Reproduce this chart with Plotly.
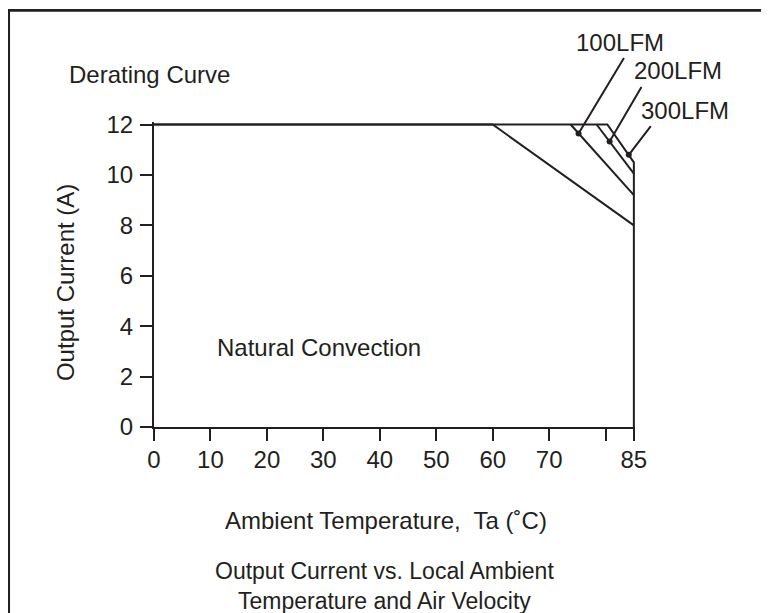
import plotly.graph_objects as go

# ---- data ----
nat_x = [0, 60, 85]
nat_y = [12, 12, 8]
lfm100_x = [73.8, 85]
lfm100_y = [12, 9.2]
lfm200_x = [78.4, 85]
lfm200_y = [12, 10.05]
lfm300_x = [0, 80.3, 85, 85]
lfm300_y = [12, 12, 10.5, 0]

label_names = ["100LFM", "200LFM", "300LFM"]
dot_x = [75.2, 80.7, 84.1]
dot_y = [11.64, 11.33, 10.8]
leader_x = [83.4, 86.5, 88.2]
leader_y = [14.7, 13.55, 12.0]

x_tickvals = [0, 10, 20, 30, 40, 50, 60, 70, 80, 85]
x_ticktext = ["0", "10", "20", "30", "40", "50", "60", "70", "", "85"]
y_tickvals = [0, 2, 4, 6, 8, 10, 12]

INK = "#231f20"
FONT = "Liberation Sans, Arial, sans-serif"
FS = 24

fig = go.Figure()
for xs, ys in [(nat_x, nat_y), (lfm100_x, lfm100_y), (lfm200_x, lfm200_y), (lfm300_x, lfm300_y)]:
    fig.add_trace(go.Scatter(x=xs, y=ys, mode="lines",
                             line=dict(color=INK, width=2), showlegend=False,
                             hoverinfo="skip"))
fig.add_trace(go.Scatter(x=dot_x, y=dot_y, mode="markers",
                         marker=dict(color=INK, size=6), showlegend=False,
                         cliponaxis=False, hoverinfo="skip"))

# label positions (paper coordinates)
label_pos = [(0.968, 1.261), (1.089, 1.168), (1.103, 1.039)]


def txt(text, x, y, xanchor="center", angle=0, size=FS):
    return dict(x=x, y=y, xref="paper", yref="paper", text=text, showarrow=False,
                xanchor=xanchor, yanchor="middle", textangle=angle,
                font=dict(family=FONT, size=size, color=INK))


annotations = []
for name, dx, dy, lx, ly, (px, py) in zip(label_names, dot_x, dot_y, leader_x, leader_y, label_pos):
    annotations.append(dict(x=dx, y=dy, ax=lx, ay=ly, xref="x", yref="y",
                            axref="x", ayref="y", showarrow=True, arrowhead=0,
                            arrowwidth=2, arrowcolor=INK, text=""))
    annotations.append(txt(name, px, py))

annotations += [
    txt("Derating Curve", -0.1815, 1.157, xanchor="left"),
    txt("Natural Convection", 0.343, 0.261),
    txt("Output Current (A)", -0.185, 0.472, angle=-90),
    txt("Ambient Temperature,  Ta (˚C)", 0.482, -0.305),
    txt("Output Current vs. Local Ambient<br>Temperature and Air Velocity",
        0.480, -0.521, size=23),
]

# outer frame (left and top edges)
shapes = [dict(type="path", xref="paper", yref="paper",
               path="M -0.302,-0.7 L -0.302,1.366 L 1.35,1.366",
               line=dict(color=INK, width=2.6))]

fig.update_layout(
    width=769, height=613,
    margin=dict(l=146, r=142, t=114, b=194),
    paper_bgcolor="white", plot_bgcolor="white",
    font=dict(family=FONT, size=FS, color=INK),
    annotations=annotations, shapes=shapes,
    xaxis=dict(range=[0, 85.2], tickvals=x_tickvals, ticktext=x_ticktext,
               ticks="outside", ticklen=12, tickwidth=2, tickcolor=INK,
               showline=True, linewidth=2, linecolor=INK, showgrid=False,
               zeroline=False, ticklabelstandoff=-2,
               tickfont=dict(family=FONT, size=FS, color=INK)),
    yaxis=dict(range=[0, 12.1], tickvals=y_tickvals,
               ticks="outside", ticklen=12, tickwidth=2, tickcolor=INK,
               showline=True, linewidth=2, linecolor=INK, showgrid=False,
               zeroline=False, ticklabelstandoff=2,
               tickfont=dict(family=FONT, size=FS, color=INK)),
)

fig.write_html("out.html")
